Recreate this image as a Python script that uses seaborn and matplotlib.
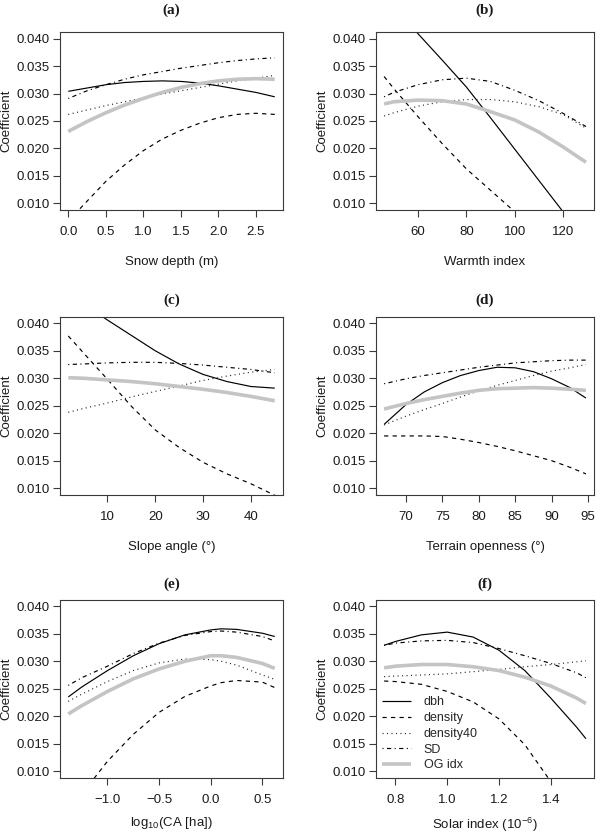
import numpy as np
import pandas as pd
import matplotlib
matplotlib.use("Agg")
import matplotlib.pyplot as plt
import seaborn as sns
from matplotlib.ticker import FixedLocator, FuncFormatter

# ---------------- data ----------------
series_names = ["dbh", "density", "density40", "SD", "OG idx"]

# (a) Snow depth
a_x = [0.0, 0.25, 0.5, 0.75, 1.0, 1.25, 1.5, 1.75, 2.0, 2.25, 2.5, 2.75]
a_dbh = [0.0304, 0.0310, 0.0316, 0.0320, 0.0322, 0.0323, 0.0322, 0.0319, 0.0314, 0.0308, 0.0302, 0.0294]
a_density = [0.0068, 0.0104, 0.0140, 0.0170, 0.0196, 0.0217, 0.0233, 0.0246, 0.0256, 0.0262, 0.0264, 0.0262]
a_density40 = [0.0262, 0.0270, 0.0278, 0.0285, 0.0292, 0.0299, 0.0305, 0.0311, 0.0317, 0.0323, 0.0328, 0.0333]
a_sd = [0.0291, 0.0305, 0.0316, 0.0326, 0.0334, 0.0340, 0.0346, 0.0351, 0.0356, 0.0360, 0.0363, 0.0365]
a_og = [0.0231, 0.0249, 0.0265, 0.0279, 0.0291, 0.0302, 0.0311, 0.0318, 0.0323, 0.0326, 0.0327, 0.0326]

# (b) Warmth index
b_x = [46, 50, 60, 70, 80, 90, 100, 110, 120, 129.5]
b_dbh = [0.0475, 0.0456, 0.0409, 0.0361, 0.0312, 0.0256, 0.0199, 0.0142, 0.0085, 0.0030]
b_density = [0.0331, 0.0309, 0.0258, 0.0209, 0.0163, 0.0124, 0.0085, 0.0048, 0.0013, -0.0020]
b_density40 = [0.0259, 0.0265, 0.0277, 0.0285, 0.0289, 0.0289, 0.0285, 0.0276, 0.0262, 0.0237]
b_sd = [0.0294, 0.0302, 0.0316, 0.0325, 0.0328, 0.0322, 0.0306, 0.0287, 0.0264, 0.0240]
b_og = [0.0281, 0.0285, 0.0288, 0.0287, 0.0281, 0.0267, 0.0252, 0.0230, 0.0203, 0.0175]

# (c) Slope angle
c_x = [1.8, 5, 10, 15, 20, 25, 30, 35, 40, 45]
c_dbh = [0.0454, 0.0435, 0.0406, 0.0378, 0.0350, 0.0326, 0.0307, 0.0294, 0.0285, 0.0282]
c_density = [0.0377, 0.0346, 0.0298, 0.0249, 0.0206, 0.0174, 0.0147, 0.0126, 0.0108, 0.0087]
c_density40 = [0.0238, 0.0245, 0.0255, 0.0266, 0.0276, 0.0286, 0.0296, 0.0304, 0.0311, 0.0316]
c_sd = [0.0325, 0.0326, 0.0328, 0.0329, 0.0329, 0.0327, 0.0324, 0.0320, 0.0316, 0.0310]
c_og = [0.0301, 0.0300, 0.0297, 0.0294, 0.0290, 0.0285, 0.0280, 0.0274, 0.0267, 0.0259]

# (d) Terrain openness
d_x = [67, 70, 72.5, 75, 77.5, 80, 82.5, 85, 87.5, 90, 92.5, 94.7]
d_dbh = [0.0216, 0.0252, 0.0275, 0.0292, 0.0305, 0.0314, 0.0320, 0.0319, 0.0312, 0.0299, 0.0283, 0.0264]
d_density = [0.0195, 0.0195, 0.0195, 0.0194, 0.0189, 0.0183, 0.0176, 0.0168, 0.0159, 0.0150, 0.0138, 0.0126]
d_density40 = [0.0215, 0.0231, 0.0243, 0.0254, 0.0266, 0.0277, 0.0287, 0.0296, 0.0305, 0.0313, 0.0319, 0.0325]
d_sd = [0.0290, 0.0299, 0.0305, 0.0310, 0.0315, 0.0320, 0.0324, 0.0328, 0.0330, 0.0332, 0.0333, 0.0333]
d_og = [0.0244, 0.0254, 0.0261, 0.0267, 0.0273, 0.0278, 0.0281, 0.0282, 0.0283, 0.0282, 0.0280, 0.0278]

# (e) log10(CA)
e_x = [-1.38, -1.25, -1.0, -0.75, -0.5, -0.25, 0.0, 0.1, 0.25, 0.5, 0.62]
e_dbh = [0.0235, 0.0253, 0.0283, 0.0310, 0.0332, 0.0348, 0.0357, 0.0359, 0.0358, 0.0351, 0.0345]
e_density = [0.0025, 0.0058, 0.0118, 0.0167, 0.0207, 0.0236, 0.0255, 0.0261, 0.0265, 0.0262, 0.0252]
e_density40 = [0.0227, 0.0240, 0.0263, 0.0283, 0.0297, 0.0304, 0.0303, 0.0300, 0.0293, 0.0275, 0.0267]
e_sd = [0.0256, 0.0270, 0.0291, 0.0314, 0.0333, 0.0347, 0.0354, 0.0355, 0.0353, 0.0345, 0.0337]
e_og = [0.0204, 0.0219, 0.0245, 0.0268, 0.0286, 0.0300, 0.0310, 0.0310, 0.0307, 0.0296, 0.0287]

# (f) Solar index
f_x = [0.756, 0.8, 0.9, 1.0, 1.1, 1.2, 1.3, 1.4, 1.5, 1.536]
f_dbh = [0.0329, 0.0336, 0.0348, 0.0353, 0.0344, 0.0320, 0.0283, 0.0233, 0.0180, 0.0159]
f_density = [0.0264, 0.0263, 0.0258, 0.0245, 0.0226, 0.0195, 0.0148, 0.0081, 0.0010, -0.0020]
f_density40 = [0.0272, 0.0273, 0.0275, 0.0277, 0.0281, 0.0285, 0.0290, 0.0294, 0.0299, 0.0301]
f_sd = [0.0329, 0.0333, 0.0337, 0.0338, 0.0334, 0.0323, 0.0310, 0.0296, 0.0279, 0.0270]
f_og = [0.0288, 0.0291, 0.0294, 0.0294, 0.0290, 0.0283, 0.0271, 0.0255, 0.0233, 0.0223]

titles = ["(a)", "(b)", "(c)", "(d)", "(e)", "(f)"]
xlabels = ["Snow depth (m)", "Warmth index", "Slope angle (\u00b0)",
           "Terrain openness (\u00b0)", r"log$_{10}$(CA [ha])", r"Solar index (10$^{-6}$)"]
xticks = [[0.0, 0.5, 1.0, 1.5, 2.0, 2.5], [60, 80, 100, 120], [10, 20, 30, 40],
          [70, 75, 80, 85, 90, 95], [-1.0, -0.5, 0.0, 0.5], [0.8, 1.0, 1.2, 1.4]]
xtick_fmt = ["%.1f", "%d", "%d", "%d", "%.1f", "%.1f"]
yticks = [0.010, 0.015, 0.020, 0.025, 0.030, 0.035, 0.040]
ylim = (0.0088, 0.0412)

panels = [
    (a_x, [a_dbh, a_density, a_density40, a_sd, a_og]),
    (b_x, [b_dbh, b_density, b_density40, b_sd, b_og]),
    (c_x, [c_dbh, c_density, c_density40, c_sd, c_og]),
    (d_x, [d_dbh, d_density, d_density40, d_sd, d_og]),
    (e_x, [e_dbh, e_density, e_density40, e_sd, e_og]),
    (f_x, [f_dbh, f_density, f_density40, f_sd, f_og]),
]

# ---------------- style ----------------
sns.set_theme(style="ticks")
plt.rcParams["font.family"] = ["Liberation Sans", "DejaVu Sans"]
plt.rcParams["mathtext.fontset"] = "custom"
plt.rcParams["mathtext.rm"] = "Liberation Sans"
plt.rcParams["mathtext.it"] = "Liberation Sans:italic"
plt.rcParams["mathtext.bf"] = "Liberation Sans:bold"

palette = {"dbh": "black", "density": "black", "density40": "#222222",
           "SD": "black", "OG idx": "#c4c4c4"}
dash_map = {"dbh": "", "density": (3.6, 3.6), "density40": (0.9, 2.9),
            "SD": (0.9, 2.9, 3.6, 2.9), "OG idx": ""}
size_map = {"dbh": 0.85, "density": 0.85, "density40": 0.85, "SD": 0.85, "OG idx": 2.6}

fig = plt.figure(figsize=(6.0, 8.35), dpi=100)

col_left = [0.100, 0.6267]
col_width = [0.3717, 0.3633]
row_bottom = [0.7485, 0.4075, 0.0686]
row_height = 0.2132
title_offset = [15.5, 11.8, 11.0]
xlabel_pad = [13, 13, 7]

spine_col = "#3a3a3a"

for i, (xs, ys) in enumerate(panels):
    r, c = divmod(i, 2)
    ax = fig.add_axes([col_left[c], row_bottom[r], col_width[c], row_height])
    frames = []
    for name, yv in zip(series_names, ys):
        frames.append(pd.DataFrame({"x": xs, "y": yv, "series": name}))
    df = pd.concat(frames, ignore_index=True)
    sns.lineplot(data=df, x="x", y="y", hue="series", style="series", size="series",
                 hue_order=series_names, style_order=series_names, size_order=series_names,
                 palette=palette, dashes=dash_map, sizes=size_map,
                 estimator=None, sort=False, errorbar=None, legend=False, ax=ax)
    for ln in ax.lines:
        ln.set_solid_capstyle("butt")
        ln.set_dash_capstyle("butt")
        ln.set_solid_joinstyle("round")
    ax.margins(x=0.04)
    ax.set_ylim(*ylim)
    ax.yaxis.set_major_locator(FixedLocator(yticks))
    ax.yaxis.set_major_formatter(FuncFormatter(lambda v, p: "%.3f" % v))
    ax.xaxis.set_major_locator(FixedLocator(xticks[i]))
    fmt = xtick_fmt[i]
    ax.xaxis.set_major_formatter(FuncFormatter(lambda v, p, fmt=fmt: (fmt % v).replace("-", "\u2212")))
    for s in ax.spines.values():
        s.set_visible(True)
        s.set_color(spine_col)
        s.set_linewidth(0.8)
    ax.tick_params(axis="both", direction="out", length=5, width=0.8, color=spine_col,
                   labelsize=9.5, labelcolor="#1a1a1a")
    ax.tick_params(axis="x", pad=6.5)
    ax.tick_params(axis="y", pad=2.5)
    ax.set_xlabel(xlabels[i], fontsize=9.5, color="#1a1a1a", labelpad=xlabel_pad[r])
    ax.set_ylabel("Coefficient", fontsize=9.5, color="#1a1a1a", labelpad=3)
    ax.annotate(titles[i], xy=(0.5, 1.0), xycoords="axes fraction",
                xytext=(0, title_offset[r]), textcoords="offset points",
                ha="center", va="center", fontsize=11, fontweight="bold",
                family=["Liberation Serif", "DejaVu Serif"], color="#1a1a1a")
    if i == 5:
        ax.legend(handles=list(ax.lines[:5]), labels=series_names, loc="lower left",
                  frameon=False, fontsize=9, handlelength=2.3, handletextpad=1.0,
                  labelspacing=0.3, borderaxespad=0.2, borderpad=0.3)

fig.savefig("out.png", dpi=100)
